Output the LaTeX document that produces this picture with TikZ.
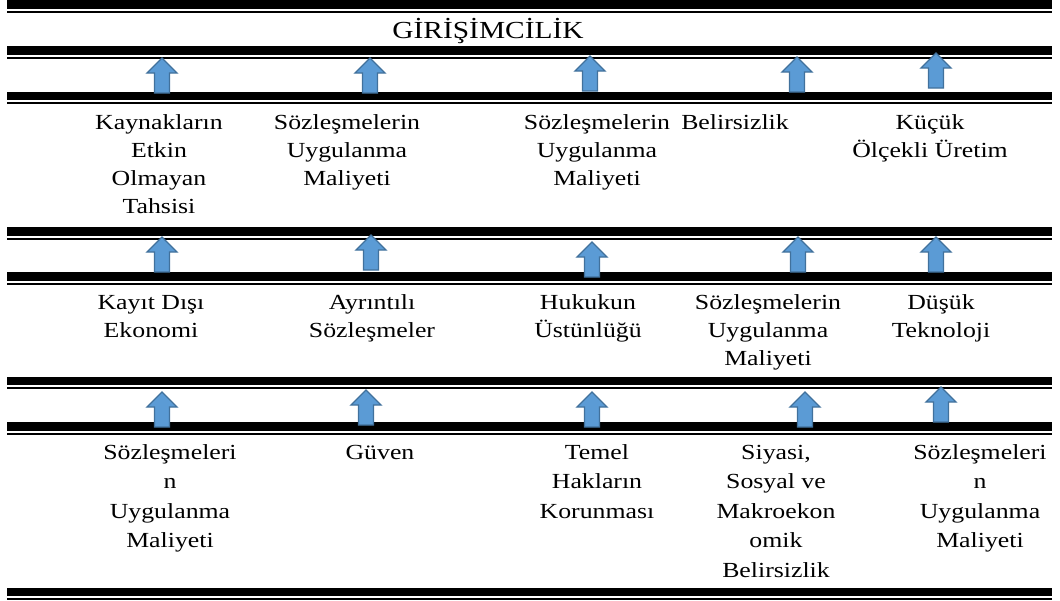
\documentclass[tikz,border=0pt]{standalone}
\usepackage{fontspec}
\setmainfont{Liberation Serif}[FakeStretch=1.2]
\definecolor{arrfill}{HTML}{5B9BD5}
\definecolor{arrdraw}{HTML}{41719C}
\newcommand\mlines[1]{\begin{tabular}[t]{@{}c@{}}#1\end{tabular}}
\tikzset{
  lbl/.style={font=\fontsize{21.5}{28}\selectfont, anchor=base, inner sep=0pt},
  lblc/.style={font=\fontsize{21.5}{29.5}\selectfont, anchor=base, inner sep=0pt},
  titlestyle/.style={font=\fontsize{24.5}{28}\selectfont, anchor=base, inner sep=0pt},
  blockarrow/.style={fill=arrfill, draw=arrdraw, line width=1.3pt, line join=miter},
  bandfill/.style={fill=black}
}
\newcommand\myband[1]{%
  \fill[bandfill] (7,#1) rectangle (1052,#1+8.5);
  \fill[bandfill] (7,#1+10.5) rectangle (1052,#1+12.5);}
\newcommand\myuparr[2]{%
  \draw[blockarrow] (#1-7.5,#2+35) -- (#1-7.5,#2+15) -- (#1-15,#2+15) -- (#1,#2)
    -- (#1+15,#2+15) -- (#1+7.5,#2+15) -- (#1+7.5,#2+35) -- cycle;}
\begin{document}
\begin{tikzpicture}[x=1pt,y=-1pt]
\useasboundingbox (0,0) rectangle (1060,600);
% bands
\myband{0}
\myband{46}
\myband{91.5}
\myband{227}
\myband{272}
\myband{376.5}
\myband{422}
\myband{587.5}
% title
\node[titlestyle] (title) at (488,38) {GİRİŞİMCİLİK};
% arrows row 1
\myuparr{162}{58}
\myuparr{370}{58}
\myuparr{590}{56}
\myuparr{797}{57}
\myuparr{936}{53}
% row A texts (positions are first baselines)
\node[lbl] (a1) at (159,129) {\mlines{Kaynakların\\Etkin\\Olmayan\\Tahsisi}};
\node[lbl] (a2) at (347,129) {\mlines{Sözleşmelerin\\Uygulanma\\Maliyeti}};
\node[lbl] (a3) at (597,129) {\mlines{Sözleşmelerin\\Uygulanma\\Maliyeti}};
\node[lbl] (a4) at (735,129) {\mlines{Belirsizlik}};
\node[lbl] (a5) at (930,129) {\mlines{Küçük\\Ölçekli Üretim}};
% arrows row 2
\myuparr{162}{237}
\myuparr{371}{235}
\myuparr{592}{242}
\myuparr{798}{237}
\myuparr{936}{237}
% row B texts
\node[lbl] (b1) at (151,309) {\mlines{Kayıt Dışı\\Ekonomi}};
\node[lbl] (b2) at (372,309) {\mlines{Ayrıntılı\\Sözleşmeler}};
\node[lbl] (b3) at (588,309) {\mlines{Hukukun\\Üstünlüğü}};
\node[lbl] (b4) at (768,309) {\mlines{Sözleşmelerin\\Uygulanma\\Maliyeti}};
\node[lbl] (b5) at (941,309) {\mlines{Düşük\\Teknoloji}};
% arrows row 3
\myuparr{162}{392}
\myuparr{366}{390}
\myuparr{592}{392}
\myuparr{805}{392}
\myuparr{941}{387}
% row C texts
\node[lblc] (c1) at (170,459) {\mlines{Sözleşmeleri\\n\\Uygulanma\\Maliyeti}};
\node[lblc] (c2) at (380,459) {\mlines{Güven}};
\node[lblc] (c3) at (597,459) {\mlines{Temel\\Hakların\\Korunması}};
\node[lblc] (c4) at (776,459) {\mlines{Siyasi,\\Sosyal ve\\Makroekon\\omik\\Belirsizlik}};
\node[lblc] (c5) at (980,459) {\mlines{Sözleşmeleri\\n\\Uygulanma\\Maliyeti}};
\end{tikzpicture}
\end{document}
